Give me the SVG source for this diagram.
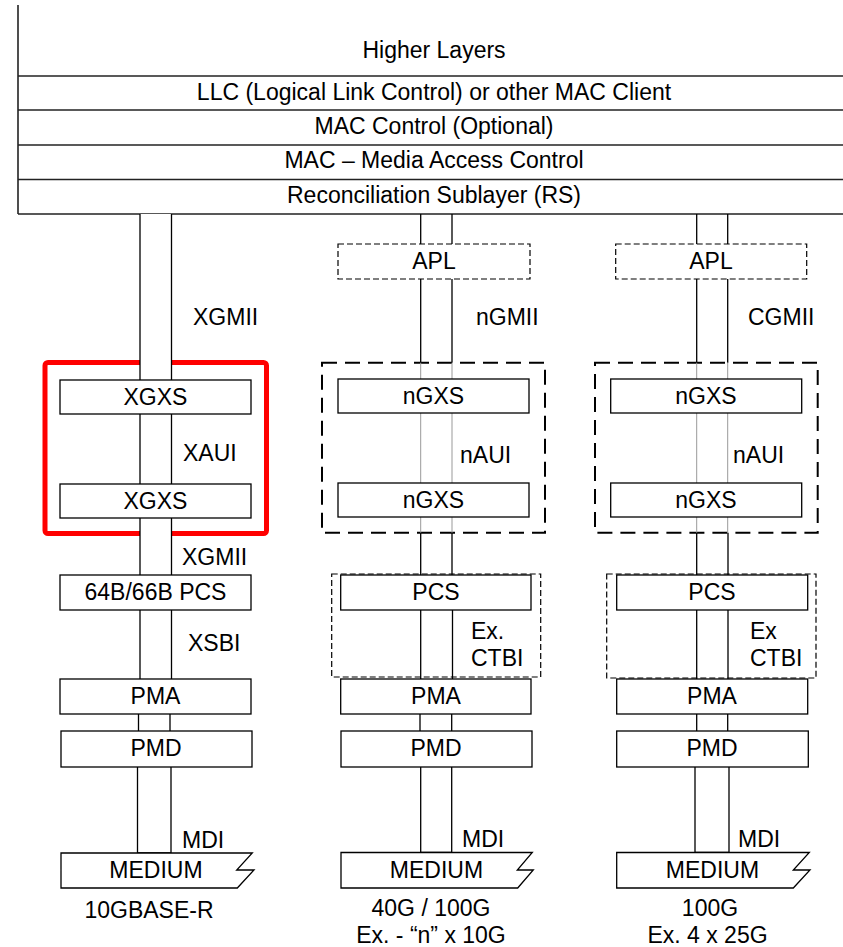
<svg xmlns="http://www.w3.org/2000/svg" width="843" height="947" viewBox="0 0 843 947">
<style>
text{font-family:"Liberation Sans",Arial,sans-serif;font-size:23px;fill:#000}
.m{text-anchor:middle}
.b{fill:#fff;stroke:#000;stroke-width:1.3}
.hl{fill:none;stroke:#222;stroke-width:1.6}
.p{fill:none;stroke:#000;stroke-width:1.3}
.pg{fill:none;stroke:#999;stroke-width:1}
.pw{fill:#fff;stroke:none}
.dl{fill:none;stroke:#000;stroke-width:2;stroke-dasharray:15 8}
.ds{fill:#fff;stroke:#000;stroke-width:1.2;stroke-dasharray:6 3}
.dsn{fill:none;stroke:#000;stroke-width:1.2;stroke-dasharray:6 3}
</style>
<rect width="843" height="947" fill="#fff"/>

<g id="higher-layers"><path class="hl" d="M18,5V214"/><text class="m" x="434" y="58">Higher Layers</text></g>
<g id="llc"><path class="hl" d="M18,76H843"/><text class="m" x="434" y="100">LLC (Logical Link Control) or other MAC Client</text></g>
<g id="mac-control"><path class="hl" d="M18,110H843"/><text class="m" x="434" y="134">MAC Control (Optional)</text></g>
<g id="mac"><path class="hl" d="M18,145H843"/><text class="m" x="434" y="168">MAC – Media Access Control</text></g>
<g id="rs"><path class="hl" d="M18,179.5H843M18,214H843"/><text class="m" x="434" y="203">Reconciliation Sublayer (RS)</text></g>

<g id="red-group"><rect x="45" y="362.5" width="221.5" height="171" rx="3" fill="none" stroke="#f00" stroke-width="5"/></g>
<g id="ngxs-group-mid"><rect class="dl" x="322" y="362.7" width="223" height="170"/></g>
<g id="ngxs-group-right"><rect class="dl" x="595" y="362.7" width="222.7" height="170"/></g>
<g id="pcs-wrap-mid"><rect class="dsn" x="331.7" y="574" width="209" height="103"/></g>
<g id="pcs-wrap-right"><rect class="dsn" x="606.7" y="574" width="209.3" height="104"/></g>

<g id="connectors">
<rect class="pw" x="140" y="214" width="31.5" height="166"/>
<rect class="pw" x="140" y="414" width="31.5" height="70"/>
<rect class="pw" x="140" y="518" width="31.5" height="57"/>
<path class="p" d="M140,214V380M171.5,214V380M140,414V484M171.5,414V484M140,518V575M171.5,518V575M140,610V679M171.5,610V679M138.5,714V731M170,714V731M137.5,767V853M171,767V853M137.5,853H171"/>
<path class="p" d="M420.7,214V244M452,214V244M420.7,279V362.7M452,279V362.7M420.7,532.7V575M452,532.7V575M420.7,610V679M452.5,610V679M420,714V731M451.7,714V731M420.7,767V852.5M451.7,767V852.5M420.7,852.5H451.7"/>
<path class="pg" d="M420.7,362.7V379M452,362.7V379M420.7,413V483M452,413V483M420.7,517V532.7M452,517V532.7"/>
<path class="p" d="M696.7,214V244M727.7,214V244M696.7,279V362.7M727.7,279V362.7M696.7,532.7V575M728,532.7V575M696.7,610V679M728,610V679M696.7,714V731M727.7,714V731M695,767V852.5M729,767V852.5M695,852.5H729"/>
<path class="pg" d="M696.7,362.7V379M727.7,362.7V379M696.7,413V483M727.7,413V483M696.7,517V532.7M727.7,517V532.7"/>
<text x="193" y="325">XGMII</text>
<text x="183" y="461">XAUI</text>
<text x="182" y="565">XGMII</text>
<text x="188" y="651">XSBI</text>
<text x="182" y="848">MDI</text>
<text x="476" y="325">nGMII</text>
<text x="460" y="463">nAUI</text>
<text x="471" y="639">Ex.</text>
<text x="471" y="666">CTBI</text>
<text x="462" y="847">MDI</text>
<text x="748" y="325">CGMII</text>
<text x="733" y="463">nAUI</text>
<text x="750" y="639">Ex</text>
<text x="750" y="666">CTBI</text>
<text x="738" y="847">MDI</text>
</g>

<g id="xgxs-1"><rect class="b" x="60" y="380" width="191" height="34"/><text class="m" x="155.5" y="405">XGXS</text></g>
<g id="xgxs-2"><rect class="b" x="60" y="484" width="191" height="34"/><text class="m" x="155.5" y="509">XGXS</text></g>
<g id="pcs-left"><rect class="b" x="60" y="575" width="191" height="35"/><text class="m" x="155.5" y="600">64B/66B PCS</text></g>
<g id="pma-left"><rect class="b" x="60" y="679" width="191" height="35"/><text class="m" x="155.5" y="704">PMA</text></g>
<g id="pmd-left"><rect class="b" x="61" y="731" width="191" height="36"/><text class="m" x="156" y="756">PMD</text></g>
<g id="medium-left"><path class="b" d="M61,853H252.3L236.7,870H254L237.3,888H61Z"/><text class="m" x="156" y="878">MEDIUM</text></g>
<g id="label-left"><text class="m" x="149" y="918">10GBASE-R</text></g>

<g id="apl-mid"><rect class="ds" x="338" y="244" width="192" height="35"/><text class="m" x="434" y="269">APL</text></g>
<g id="ngxs-mid-1"><rect class="b" x="338" y="379" width="191" height="34"/><text class="m" x="433.5" y="404">nGXS</text></g>
<g id="ngxs-mid-2"><rect class="b" x="338" y="483" width="191" height="34"/><text class="m" x="433.5" y="508">nGXS</text></g>
<g id="pcs-mid"><rect class="b" x="340.7" y="575" width="190.3" height="35"/><text class="m" x="436" y="600">PCS</text></g>
<g id="pma-mid"><rect class="b" x="340.7" y="679" width="190.3" height="35"/><text class="m" x="436" y="704">PMA</text></g>
<g id="pmd-mid"><rect class="b" x="341" y="731" width="191" height="36"/><text class="m" x="436" y="756">PMD</text></g>
<g id="medium-mid"><path class="b" d="M341,852.5H532.3L517.3,870H533.3L517.7,888H341Z"/><text class="m" x="436.5" y="878">MEDIUM</text></g>
<g id="label-mid"><text class="m" x="431" y="916">40G / 100G</text><text class="m" x="431" y="943">Ex. - “n” x 10G</text></g>

<g id="apl-right"><rect class="ds" x="615.7" y="244" width="191" height="35"/><text class="m" x="711" y="269">APL</text></g>
<g id="ngxs-right-1"><rect class="b" x="610.7" y="379" width="191" height="34"/><text class="m" x="706" y="404">nGXS</text></g>
<g id="ngxs-right-2"><rect class="b" x="610.7" y="483" width="191" height="34"/><text class="m" x="706" y="508">nGXS</text></g>
<g id="pcs-right"><rect class="b" x="616.7" y="575" width="191" height="35"/><text class="m" x="712" y="600">PCS</text></g>
<g id="pma-right"><rect class="b" x="616.7" y="679" width="191" height="35"/><text class="m" x="712" y="704">PMA</text></g>
<g id="pmd-right"><rect class="b" x="616.7" y="731" width="191.6" height="36"/><text class="m" x="712" y="756">PMD</text></g>
<g id="medium-right"><path class="b" d="M616.7,852.5H809.3L793.3,870H810L793.3,888H616.7Z"/><text class="m" x="712.5" y="878">MEDIUM</text></g>
<g id="label-right"><text class="m" x="710" y="916">100G</text><text class="m" x="707.5" y="943">Ex. 4 x 25G</text></g>
</svg>
